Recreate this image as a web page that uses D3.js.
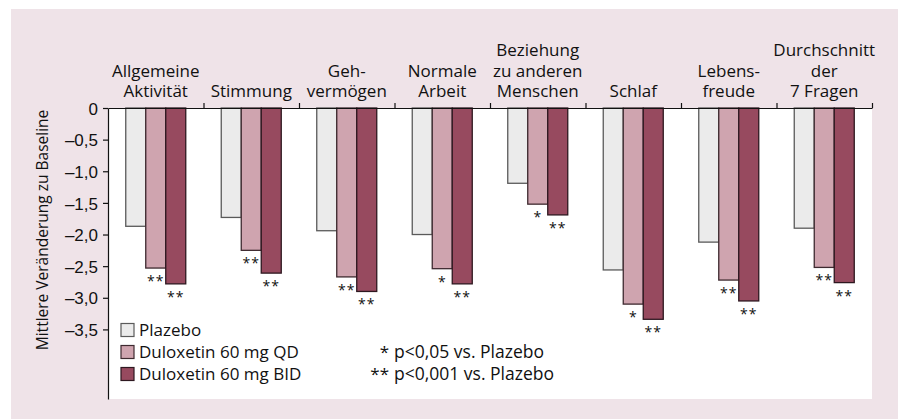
<!DOCTYPE html>
<html>
<head>
<meta charset="utf-8">
<script src="https://cdn.jsdelivr.net/npm/d3@7"></script>
<style>
  body { margin: 0; background: #fff; }
  svg { display: block; font-family: "Open Sans", "Noto Sans", sans-serif; }
  .axis text { font-size: 17px; fill: #111; }
  .axis path, .axis line { stroke: #111; stroke-width: 1.2; }
</style>
</head>
<body>
<div id="chart"></div>
<script>
const categories = [
    ['Allgemeine', 'Aktivität'],
    ['Stimmung'],
    ['Geh-', 'vermögen'],
    ['Normale', 'Arbeit'],
    ['Beziehung', 'zu anderen', 'Menschen'],
    ['Schlaf'],
    ['Lebens-', 'freude'],
    ['Durchschnitt', 'der', '7 Fragen'],
];
const seriesNames = ['Plazebo', 'Duloxetin 60 mg QD', 'Duloxetin 60 mg BID'];
const placebo = [-1.87, -1.73, -1.94, -2.0, -1.19, -2.56, -2.12, -1.90];
const qd = [-2.53, -2.25, -2.67, -2.54, -1.52, -3.10, -2.72, -2.52];
const bid = [-2.78, -2.61, -2.90, -2.78, -1.69, -3.34, -3.05, -2.76];
// significance marks under the bars (placebo never has one)
const qdStars = ['**', '**', '**', '*', '*', '*', '**', '**'];
const bidStars = ['**', '**', '**', '**', '**', '**', '**', '**'];
const yTicks = [0, -0.5, -1.0, -1.5, -2.0, -2.5, -3.0, -3.5];
const footnotes = [['*', 'p<0,05 vs. Plazebo'], ['**', 'p<0,001 vs. Plazebo']];

const W = 898, H = 419;
const plot = { left: 108, right: 872, top: 108, bottom: 399 };
const fills = ['#ebebeb', '#cfa4af', '#974a5f'];
const strokes = ['#5a5a5a', '#3e2a30', '#2e1820'];

const svg = d3.select('#chart').append('svg').attr('width', W).attr('height', H);

svg.append('rect').attr('x', 11).attr('y', 9).attr('width', W - 11).attr('height', H - 9).attr('fill', '#efe3e8');
svg.append('rect')
    .attr('x', plot.left).attr('y', plot.top)
    .attr('width', plot.right - plot.left).attr('height', plot.bottom - plot.top)
    .attr('fill', '#fff');

const x0 = d3.scaleBand().domain(d3.range(categories.length)).range([plot.left, plot.right]).padding(0);
const x1 = d3.scaleBand().domain(d3.range(seriesNames.length)).range([0, 60]).padding(0);
const y = d3.scaleLinear().domain([0, -4.6]).range([plot.top, plot.bottom]);
const groupOffset = (x0.bandwidth() - 60) / 2;

const series = [placebo, qd, bid];
const stars = [null, qdStars, bidStars];

const g = svg.append('g');
categories.forEach((cat, ci) => {
    const gx = x0(ci) + groupOffset;
    series.forEach((vals, si) => {
        g.append('rect')
            .attr('x', gx + x1(si))
            .attr('y', y(0))
            .attr('width', x1.bandwidth())
            .attr('height', y(vals[ci]) - y(0))
            .attr('fill', fills[si])
            .attr('stroke', strokes[si])
            .attr('stroke-width', 1.3);
        if (stars[si]) {
            g.append('text')
                .attr('x', gx + x1(si) + x1.bandwidth() / 2)
                .attr('y', y(vals[ci]) + 18)
                .attr('text-anchor', 'middle')
                .attr('font-size', 14)
                .attr('letter-spacing', 1)
                .attr('fill', '#111')
                .text(stars[si][ci]);
        }
    });
    // category label, bottom line sits right above the top axis
    const lines = cat;
    const t = svg.append('text')
        .attr('text-anchor', 'middle')
        .attr('font-size', 17)
        .attr('fill', '#111');
    lines.forEach((ln, li) => {
        t.append('tspan')
            .attr('x', x0(ci) + x0.bandwidth() / 2)
            .attr('y', 97 - (lines.length - 1 - li) * 20.5)
            .text(ln);
    });
});

// top axis line with ticks between the categories
const xb = d3.scaleLinear().domain([0, categories.length]).range([plot.left, plot.right]);
svg.append('g')
    .attr('class', 'axis')
    .attr('transform', `translate(0,${plot.top})`)
    .call(d3.axisTop(xb).tickValues(d3.range(1, categories.length + 1)).tickSize(5).tickSizeOuter(0).tickFormat(''));

const fmt = v => v === 0 ? '0' : '\u2013' + Math.abs(v).toFixed(1).replace('.', ',');
svg.append('g')
    .attr('class', 'axis')
    .attr('transform', `translate(${plot.left},0)`)
    .call(d3.axisLeft(y).tickValues(yTicks).tickSize(5).tickSizeOuter(0).tickPadding(5).tickFormat(fmt))
    .call(a => a.selectAll('.tick text').attr('dy', '0.36em'));

svg.append('text')
    .attr('transform', `translate(48,230) rotate(-90)`)
    .attr('text-anchor', 'middle')
    .attr('font-size', 15.5)
    .attr('fill', '#111')
    .text('Mittlere Veränderung zu Baseline');

// legend
const legend = svg.append('g');
seriesNames.forEach((name, i) => {
    const ly = 330 + i * 22;
    legend.append('rect')
        .attr('x', 121).attr('y', ly - 6.5)
        .attr('width', 13).attr('height', 13)
        .attr('fill', fills[i]).attr('stroke', strokes[i]).attr('stroke-width', 1.2);
    legend.append('text')
        .attr('x', 139).attr('y', ly + 6)
        .attr('font-size', 17).attr('fill', '#111')
        .text(name);
});
footnotes.forEach((fn, i) => {
    const ly = 352 + i * 22;
    legend.append('text')
        .attr('x', 389).attr('y', ly + 6)
        .attr('text-anchor', 'end')
        .attr('font-size', 17).attr('fill', '#111')
        .text(fn[0]);
    legend.append('text')
        .attr('x', 394).attr('y', ly + 6)
        .attr('font-size', 17.5).attr('fill', '#111')
        .text(fn[1]);
});
</script>
</body>
</html>
